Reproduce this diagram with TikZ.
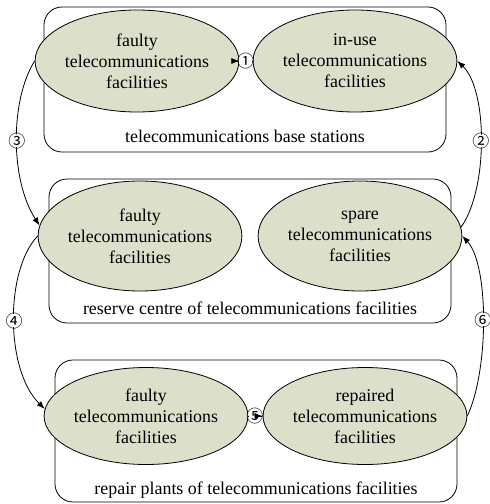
\documentclass[tikz,border=0pt]{standalone}
\usepackage{fontspec}
\setmainfont{Liberation Serif}
\newfontfamily\circfont{Noto Sans CJK SC}
\usetikzlibrary{shapes.geometric,arrows.meta,calc}
\definecolor{ellfill}{RGB}{220,223,202}
\begin{document}
\begin{tikzpicture}[x=1pt,y=-1pt,
 ell/.style={ellipse,draw,fill=ellfill,line width=0.8pt,inner sep=0pt,align=center,font=\fontsize{17.9}{21}\selectfont},
 grp/.style={draw,rounded corners=18pt,line width=0.8pt},
 grplabel/.style={font=\fontsize{17.9}{21}\selectfont,inner sep=0pt},
 flow/.style={line width=0.8pt,-{Latex[length=8pt,width=6pt]}},
 link/.style={line width=0.8pt},
 num/.style={circle,fill=white,inner sep=-3.6pt,font=\circfont\fontsize{17}{17}\selectfont}]
\useasboundingbox (0,0) rectangle (490,504);
% group boxes
\draw[grp] (44,7) rectangle (446,152);
\draw[grp] (49,179) rectangle (451,323);
\draw[grp] (55,360) rectangle (457,502);
% states
\node[ell,minimum width=186pt,minimum height=102pt] (A) at (137,61) {faulty\\telecommunications\\facilities};
\node[ell,minimum width=186pt,minimum height=102pt] (B) at (355,61) {in-use\\telecommunications\\facilities};
\node[ell,minimum width=184pt,minimum height=110pt] (C) at (140,236) {faulty\\telecommunications\\facilities};
\node[ell,minimum width=185pt,minimum height=110pt] (D) at (360,236) {spare\\telecommunications\\facilities};
\node[ell,minimum width=182pt,minimum height=97pt] (E) at (146,416) {faulty\\telecommunications\\facilities};
\node[ell,minimum width=183pt,minimum height=97pt] (F) at (365,416) {repaired\\telecommunications\\facilities};
% group labels
\node[grplabel] (l1) at (245,136) {telecommunications base stations};
\node[grplabel] (l2) at (250,308) {reserve centre of telecommunications facilities};
\node[grplabel] (l3) at (256,490) {repair plants of telecommunications facilities};
% step labels on straight flows
\node[num] (n1) at ($(A.east)!0.47!(B.west)$) {①};
\node[num] (n5) at ($(E.east)!0.45!(F.west)$) {⑤};
% flows
\draw[link] (B.west) -- (n1);
\draw[flow] (n1) -- (A.east);
\draw[link] (E.east) -- (n5);
\draw[flow] (n5) -- (F.west);
\draw[flow] (A.west) .. controls (10,100) and (10,180) .. node[num,midway]{③} (C.174);
\draw[flow] (C.west) .. controls (5,270) and (5,370) .. node[num,midway]{④} (E.176);
\draw[flow] (D.5) .. controls (488,190) and (488,90) .. node[num,midway]{②} (B.east);
\draw[flow] (F.east) .. controls (489,370) and (489,265) .. node[num,midway]{⑥} (D.east);
\end{tikzpicture}
\end{document}
